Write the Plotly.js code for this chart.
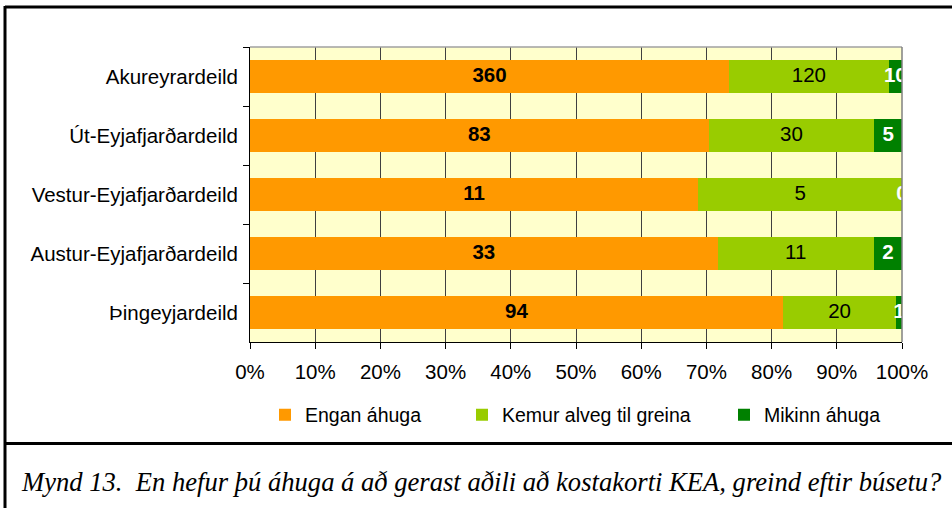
<!DOCTYPE html>
<html>
<head>
<meta charset="utf-8">
<script src="https://cdn.plot.ly/plotly-3.0.1.min.js"></script>
<style>
  html, body { margin: 0; padding: 0; background: #fff; }
  #chart { width: 952px; height: 508px; }
</style>
</head>
<body>
<div id="chart"></div>
<script>
// ---- data ----
const categories = ["Akureyrardeild", "Út-Eyjafjarðardeild", "Vestur-Eyjafjarðardeild", "Austur-Eyjafjarðardeild", "Þingeyjardeild"];
const enganAhuga = [360, 83, 11, 33, 94];
const kemurAlveg = [120, 30, 5, 11, 20];
const mikinnAhuga = [10, 5, 0, 2, 1];
const seriesNames = ["Engan áhuga", "Kemur alveg til greina", "Mikinn áhuga"];
const xTickVals = [0, 10, 20, 30, 40, 50, 60, 70, 80, 90, 100];
const xTickText = ["0%", "10%", "20%", "30%", "40%", "50%", "60%", "70%", "80%", "90%", "100%"];
const caption = "Mynd 13.  En hefur þú áhuga á að gerast aðili að kostakorti KEA, greind eftir búsetu?";

// ---- styles ----
const FONT = "Liberation Sans, Arial, Helvetica, sans-serif";
const FS = 20.5;
const FS_LEG = 19.5;
const colors = ["#FF9900", "#99CC00", "#008000"];
const series = [enganAhuga, kemurAlveg, mikinnAhuga];
const legendIds = ["legend", "legend2", "legend3"];

const traces = series.map((vals, i) => ({
  type: "bar",
  orientation: "h",
  name: seriesNames[i],
  legend: legendIds[i],
  y: categories,
  x: vals,
  marker: { color: colors[i], line: { width: 0 } },
  hoverinfo: "skip"
}));

// value labels at segment centres (percent scale), clipped by the plot area
const totals = categories.map((c, k) => series.reduce((s, arr) => s + arr[k], 0));
const labelStyles = [
  { color: "#000000", weight: "bold" },
  { color: "#000000", weight: "normal" },
  { color: "#FFFFFF", weight: "bold" }
];
series.forEach((vals, i) => {
  const xs = categories.map((c, k) => {
    let before = 0;
    for (let j = 0; j < i; j++) before += series[j][k];
    return (before + vals[k] / 2) / totals[k] * 100;
  });
  traces.push({
    type: "scatter",
    mode: "text",
    x: xs,
    y: categories,
    text: vals.map(String),
    textposition: "middle center",
    textfont: { family: FONT, size: FS, color: labelStyles[i].color, weight: labelStyles[i].weight },
    showlegend: false,
    hoverinfo: "skip",
    cliponaxis: true
  });
});

// pixel -> paper helpers for frame decorations
const L = 250, R = 902, T = 47, B = 342;
const px = v => (v - L) / (R - L);
const py = v => (B - v) / (B - T);

const legendBase = {
  orientation: "h",
  xanchor: "left",
  y: py(415), yanchor: "middle",
  font: { family: FONT, size: FS_LEG, color: "#000" },
  itemwidth: 30,
  bgcolor: "rgba(0,0,0,0)"
};

const layout = {
  width: 952,
  height: 508,
  margin: { l: L, r: 952 - R, t: T, b: 508 - B, pad: 0 },
  paper_bgcolor: "#FFFFFF",
  plot_bgcolor: "#FFFFCC",
  barmode: "stack",
  barnorm: "percent",
  bargap: 0.44,
  font: { family: FONT, size: FS, color: "#000" },
  showlegend: true,
  legend: Object.assign({}, legendBase, { x: px(265) }),
  legend2: Object.assign({}, legendBase, { x: px(462) }),
  legend3: Object.assign({}, legendBase, { x: px(724) }),
  xaxis: {
    range: [0, 100],
    tickvals: xTickVals,
    ticktext: xTickText,
    showgrid: true,
    gridcolor: "#404040",
    gridwidth: 1,
    zeroline: false,
    showline: true,
    linecolor: "#000",
    linewidth: 1,
    ticks: "outside",
    ticklen: 6,
    tickcolor: "#000",
    ticklabelstandoff: 5,
    tickfont: { family: FONT, size: FS, color: "#000" },
    fixedrange: true
  },
  yaxis: {
    type: "category",
    autorange: "reversed",
    showgrid: false,
    zeroline: false,
    showline: true,
    linecolor: "#000",
    linewidth: 1,
    ticks: "outside",
    tickson: "boundaries",
    ticklen: 6,
    tickcolor: "#000",
    ticklabelstandoff: 7,
    tickfont: { family: FONT, size: FS, color: "#000" },
    fixedrange: true
  },
  shapes: [
    // plot area top/right border (grey)
    { type: "line", xref: "paper", yref: "paper", x0: 0, x1: 1, y0: 1, y1: 1, line: { color: "#A0A0A0", width: 1.5 }, layer: "above" },
    { type: "line", xref: "paper", yref: "paper", x0: 1, x1: 1, y0: 0, y1: 1, line: { color: "#808080", width: 1.5 }, layer: "above" },
    // outer frame
    { type: "line", xref: "paper", yref: "paper", x0: px(5), x1: px(960), y0: py(7), y1: py(7), line: { color: "#000", width: 3 }, layer: "above" },
    { type: "line", xref: "paper", yref: "paper", x0: px(5), x1: px(5), y0: py(6), y1: py(520), line: { color: "#000", width: 3 }, layer: "above" },
    { type: "line", xref: "paper", yref: "paper", x0: px(5), x1: px(960), y0: py(443.5), y1: py(443.5), line: { color: "#000", width: 3 }, layer: "above" }
  ],
  annotations: [
    {
      xref: "paper", yref: "paper",
      x: px(19), y: py(482),
      xanchor: "left", yanchor: "middle",
      showarrow: false,
      text: caption,
      font: { family: "Liberation Serif, Times New Roman, serif", size: 26.6, style: "italic", color: "#000" }
    }
  ]
};

Plotly.newPlot("chart", traces, layout, { displayModeBar: false, staticPlot: true });
</script>
</body>
</html>
